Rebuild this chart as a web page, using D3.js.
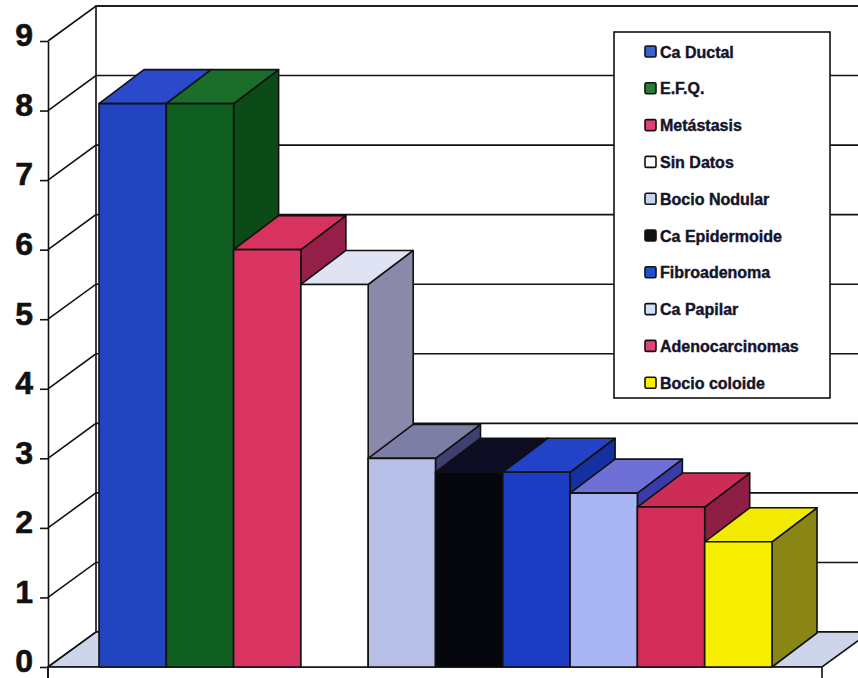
<!DOCTYPE html>
<html>
<head>
<meta charset="utf-8">
<script src="https://cdn.jsdelivr.net/npm/d3@7"></script>
<style>
  body { margin: 0; background: #fff; }
  svg { display: block; }
</style>
</head>
<body>
<div id="chart"></div>
<script>
// donnees
const categories = ["Ca Ductal", "E.F.Q.", "Metástasis", "Sin Datos", "Bocio Nodular",
  "Ca Epidermoide", "Fibroadenoma", "Ca Papilar", "Adenocarcinomas", "Bocio coloide"];
const values = [8.1, 8.1, 6.0, 5.5, 3.0, 2.8, 2.8, 2.5, 2.3, 1.8];
const yTicks = [0, 1, 2, 3, 4, 5, 6, 7, 8, 9];

// couleurs : face avant, dessus, cote, legende
const frontColors = ["#2344c0", "#0f5f20", "#d93462", "#ffffff", "#b7bfe6",
  "#06060f", "#1c3cc4", "#a9b4f2", "#d42c58", "#f6ef00"];
const topColors = ["#2a4acb", "#1a6e2a", "#d8325e", "#dfe3f3", "#7d7ea6",
  "#0c0c22", "#2242c8", "#6e70d6", "#cc2c55", "#f2ea00"];
const sideColors = ["#1a35a8", "#0c4a18", "#94204a", "#8a89aa", "#3f3f70",
  "#000008", "#1530a2", "#3a3aa8", "#8e1e44", "#8a8615"];
const swatchColors = ["#3a62d0", "#2a7a3a", "#e0407a", "#ffffff", "#c8d4ee",
  "#111111", "#2050c8", "#d0e0f8", "#e04478", "#f8f000"];

const width = 858,
  height = 678;

// profondeur des murs (projection oblique)
const DX = 48,
  DY = -35;
// profondeur des barres
const BDX = 45,
  BDY = -34;

const axisX = 48;
const floorRight = 822;

const y = d3.scaleLinear().domain([0, 9]).range([667, 41]);
const x = d3.scaleBand().domain(categories).range([99, 772]).padding(0);

const svg = d3.select("#chart").append("svg")
  .attr("width", width)
  .attr("height", height);

const line = d3.line();
const stroke = "#111";

// ----- murs -----
// mur du fond
svg.append("path")
  .attr("d", line([[axisX + DX, y(9) + DY], [floorRight + DX, y(9) + DY],
    [floorRight + DX, y(0) + DY], [axisX + DX, y(0) + DY]]) + "Z")
  .attr("fill", "#fff")
  .attr("stroke", stroke)
  .attr("stroke-width", 1.6);

// lignes de grille (fond + mur gauche)
const grid = svg.append("g").attr("fill", "none").attr("stroke", stroke).attr("stroke-width", 1.6);
yTicks.forEach(function (t) {
  grid.append("path")
    .attr("d", line([[axisX, y(t)], [axisX + DX, y(t) + DY], [floorRight + DX, y(t) + DY]]));
});

// sol
svg.append("path")
  .attr("d", line([[axisX, y(0)], [floorRight, y(0)], [floorRight + DX, y(0) + DY],
    [axisX + DX, y(0) + DY]]) + "Z")
  .attr("fill", "#cdd5ea")
  .attr("stroke", stroke)
  .attr("stroke-width", 1.6);

// epaisseur du sol
svg.append("rect")
  .attr("x", axisX)
  .attr("y", y(0))
  .attr("width", floorRight - axisX)
  .attr("height", 30)
  .attr("fill", "#fff")
  .attr("stroke", stroke)
  .attr("stroke-width", 1.6);

// ----- barres -----
const bars = svg.append("g")
  .selectAll("g")
  .data(values)
  .enter()
  .append("g");

bars.each(function (v, i) {
  const g = d3.select(this);
  const x0 = x(categories[i]);
  const x1 = x0 + x.bandwidth();
  const yt = y(v);
  const yb = y(0);

  // cote
  g.append("path")
    .attr("d", line([[x1, yb], [x1 + BDX, yb + BDY], [x1 + BDX, yt + BDY], [x1, yt]]) + "Z")
    .attr("fill", sideColors[i]);
  // dessus
  g.append("path")
    .attr("d", line([[x0, yt], [x0 + BDX, yt + BDY], [x1 + BDX, yt + BDY], [x1, yt]]) + "Z")
    .attr("fill", topColors[i]);
  // face avant
  g.append("rect")
    .attr("x", x0)
    .attr("y", yt)
    .attr("width", x.bandwidth())
    .attr("height", yb - yt)
    .attr("fill", frontColors[i]);

  g.selectAll("path, rect")
    .attr("stroke", stroke)
    .attr("stroke-width", 1.6)
    .attr("stroke-linejoin", "round");
});

// ----- axe -----
const axis = svg.append("g")
  .attr("transform", "translate(" + axisX + ",0)")
  .call(d3.axisLeft(y).tickValues(yTicks).tickSize(8).tickSizeOuter(0).tickPadding(7));

axis.select(".domain").attr("stroke", stroke).attr("stroke-width", 1.6);
axis.selectAll(".tick line").attr("stroke", stroke).attr("stroke-width", 1.6);
axis.selectAll(".tick text")
  .attr("dy", "0.15em")
  .attr("fill", "#111")
  .attr("stroke", "#111")
  .attr("stroke-width", 0.6)
  .style("font-family", "'Liberation Sans', Arial, sans-serif")
  .style("font-weight", "bold")
  .style("font-size", "32px");

// prolonger l'axe jusqu'en bas
svg.append("line")
  .attr("x1", axisX).attr("x2", axisX)
  .attr("y1", y(0)).attr("y2", height)
  .attr("stroke", stroke).attr("stroke-width", 1.6);

// ----- LEGENDE -----
const legend = svg.append("g").attr("transform", "translate(614,32)");

legend.append("rect")
  .attr("width", 216)
  .attr("height", 366)
  .attr("fill", "#fff")
  .attr("stroke", stroke)
  .attr("stroke-width", 1.6);

const items = legend.selectAll(".item")
  .data(categories)
  .enter()
  .append("g")
  .attr("class", "item")
  .attr("transform", function (d, i) {
    return "translate(0," + (20 + i * 36.8) + ")";
  });

items.append("rect")
  .attr("x", 31)
  .attr("y", -6)
  .attr("width", 11)
  .attr("height", 11)
  .attr("rx", 1.5)
  .attr("fill", function (d, i) { return swatchColors[i]; })
  .attr("stroke", stroke)
  .attr("stroke-width", 1.6);

items.append("text")
  .attr("x", 46)
  .attr("y", 0)
  .attr("dy", "0.35em")
  .attr("fill", "#14142a")
  .attr("stroke", "#14142a")
  .attr("stroke-width", 0.4)
  .style("font-family", "'Liberation Sans', Arial, sans-serif")
  .style("font-weight", "bold")
  .style("font-size", "16px")
  .text(function (d) { return d; });
</script>
</body>
</html>
